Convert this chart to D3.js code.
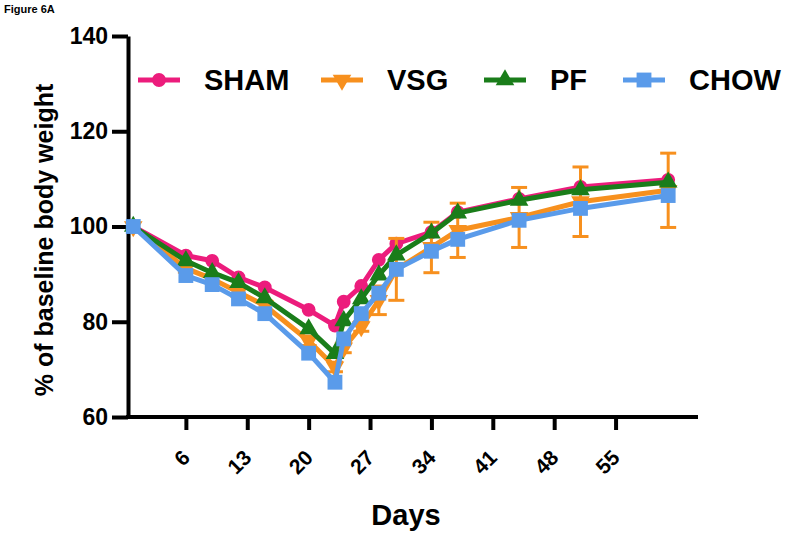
<!DOCTYPE html>
<html><head><meta charset="utf-8">
<script src="https://cdn.jsdelivr.net/npm/d3@7"></script>
<style>
body{margin:0;background:#fff;}
svg{display:block;font-family:"Liberation Sans",Arial,sans-serif;font-weight:bold;}
</style></head>
<body><svg id="c" width="800" height="534"></svg>
<script>
const days = [0, 6, 9, 12, 15, 20, 23, 24, 26, 28, 30, 34, 37, 44, 51, 61];
const sham = [100, 93.9, 92.8, 89.3, 87.2, 82.5, 79.2, 84.2, 87.5, 93.0, 96.4, 98.8, 103.0, 105.8, 108.3, 109.8];
const vsg  = [100, 91.2, 89.0, 86.2, 83.4, 76.0, 70.5, 74.5, 79.0, 84.5, 91.0, 95.6, 99.2, 101.9, 105.2, 107.6];
const vsgErr = [0, 0.8, 0.8, 0.9, 1.0, 1.0, 1.0, 1.0, 1.0, 3.0, 6.5, 5.3, 5.7, 6.3, 7.3, 7.8];
const pf   = [100, 92.8, 90.3, 88.2, 85.0, 78.5, 73.3, 80.2, 84.8, 89.8, 94.0, 98.6, 102.8, 105.5, 107.7, 109.3];
const chow = [100, 89.7, 87.8, 84.8, 81.7, 73.4, 67.3, 76.4, 81.7, 86.0, 91.0, 94.8, 97.3, 101.3, 103.8, 106.5];
const seriesNames = ["SHAM", "VSG", "PF", "CHOW"];
const seriesColors = ["#ec1c7c", "#f7901e", "#1a7d1a", "#5a9bea"];
const seriesShapes = ["circle", "triangleDown", "triangle", "square"];
const xTicks = [6, 13, 20, 27, 34, 41, 48, 55];
const yTicks = [60, 80, 100, 120, 140];
const xLabel = "Days";
const yLabel = "% of baseline body weight";
const figLabel = "Figure 6A";

const svg = d3.select("#c");
const x = d3.scaleLinear().domain([-0.6, 64.4]).range([128, 698]);
const y = d3.scaleLinear().domain([60, 140]).range([417, 36]);

svg.append("text").attr("x", 4).attr("y", 13).attr("font-size", 11).text(figLabel);

// axes
const ya = svg.append("g").attr("transform", "translate(128,0)")
  .call(d3.axisLeft(y).tickValues(yTicks).tickSize(16).tickSizeOuter(0).tickPadding(4));
ya.selectAll("path,line").attr("stroke", "#000").attr("stroke-width", 4);
ya.selectAll("text").attr("font-size", 23).attr("font-weight", "bold").attr("font-family", "Liberation Sans, Arial, sans-serif").attr("fill", "#000");

const xa = svg.append("g").attr("transform", "translate(0,417)")
  .call(d3.axisBottom(x).tickValues(xTicks).tickSize(13).tickSizeOuter(0));
xa.select(".domain").attr("d", `M${x.range()[0] - 2},0H${x.range()[1]}`);
xa.selectAll("path,line").attr("stroke", "#000").attr("stroke-width", 4);
xa.selectAll("text").attr("font-size", 21).attr("font-weight", "bold")
  .attr("font-family", "Liberation Sans, Arial, sans-serif").attr("fill", "#000")
  .attr("x", 0).attr("y", 0).attr("dy", 0).attr("text-anchor", "end")
  .attr("transform", "translate(5,42) rotate(-45)");

svg.append("text").attr("x", 406).attr("y", 525).attr("text-anchor", "middle").attr("font-size", 29).text(xLabel);
svg.append("text").attr("transform", "translate(53,240) rotate(-90)").attr("text-anchor", "middle").attr("font-size", 25).text(yLabel);

const symbolTypes = {circle: d3.symbolCircle, square: d3.symbolSquare, triangle: d3.symbolTriangle, triangleDown: d3.symbolTriangle};
const symbolSizes = {circle: 150, square: 220, triangle: 150, triangleDown: 150};
function marker(g, shape, color) {
  return g.append("path")
    .attr("d", d3.symbol().type(symbolTypes[shape]).size(symbolSizes[shape])())
    .attr("fill", color);
}

const allValues = [sham, vsg, pf, chow];
const line = d3.line().x(d => x(d[0])).y(d => y(d[1]));

allValues.forEach((vals, si) => {
  const color = seriesColors[si];
  const g = svg.append("g");
  const pts = days.map((d, i) => [d, vals[i]]);
  if (si === 1) {
    const eb = g.append("g");
    pts.forEach((p, i) => {
      const e = vsgErr[i];
      if (!e) return;
      const cx = x(p[0]);
      eb.append("line").attr("x1", cx).attr("x2", cx).attr("y1", y(p[1] - e)).attr("y2", y(p[1] + e)).attr("stroke", color).attr("stroke-width", 3);
      [p[1] - e, p[1] + e].forEach(v => eb.append("line").attr("x1", cx - 8).attr("x2", cx + 8).attr("y1", y(v)).attr("y2", y(v)).attr("stroke", color).attr("stroke-width", 3));
    });
  }
  g.append("path").attr("d", line(pts)).attr("fill", "none").attr("stroke", color).attr("stroke-width", 5).attr("stroke-linejoin", "round");
  pts.forEach(p => {
    const m = marker(g, seriesShapes[si], color);
    const rot = seriesShapes[si] === "triangleDown" ? " rotate(180)" : "";
    m.attr("transform", `translate(${x(p[0])},${y(p[1])})${rot}`);
  });
});

// legend
const legendX = [138, 321, 484, 623];
const legendY = 80;
seriesNames.forEach((name, i) => {
  const g = svg.append("g").attr("transform", `translate(${legendX[i]},${legendY})`);
  g.append("line").attr("x1", 0).attr("x2", 42).attr("y1", 0).attr("y2", 0).attr("stroke", seriesColors[i]).attr("stroke-width", 5);
  const m = marker(g, seriesShapes[i], seriesColors[i]);
  const rot = seriesShapes[i] === "triangleDown" ? " rotate(180)" : "";
  m.attr("transform", `translate(21,0)${rot}`);
  g.append("text").attr("x", 66).attr("y", 0).attr("dy", "0.36em").attr("font-size", 29).text(name);
});
</script></body></html>
